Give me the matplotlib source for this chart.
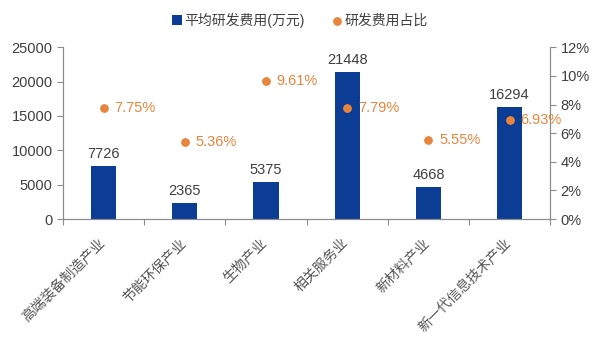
import matplotlib
matplotlib.use("Agg")
import matplotlib.pyplot as plt
import matplotlib.transforms as mtransforms
from matplotlib.ticker import FuncFormatter

plt.rcParams['font.family'] = ['Liberation Sans', 'Noto Sans CJK SC', 'DejaVu Sans']

industries = ["高端装备制造产业", "节能环保产业", "生物产业", "相关服务业", "新材料产业", "新一代信息技术产业"]
avg_rd_cost = [7726, 2365, 5375, 21448, 4668, 16294]
rd_ratio = [7.75, 5.36, 9.61, 7.79, 5.55, 6.93]

bar_color = "#0c3d94"
dot_color = "#e8853d"
text_color = "#404040"
axis_color = "#8c8c8c"

fig = plt.figure(figsize=(6, 3.45), dpi=100)
ax = fig.add_axes([0.105, 0.365, 0.812, 0.498])
ax2 = ax.twinx()

x = list(range(len(industries)))
ax.bar(x, avg_rd_cost, width=0.31, color=bar_color, label="平均研发费用(万元)", zorder=2)
for xi, v in zip(x, avg_rd_cost):
    ax.text(xi, v + 700, f"{v}", ha="center", va="bottom", fontsize=10.5, color=text_color)

ax2.scatter(x, rd_ratio, s=28, color=dot_color, label="研发费用占比", zorder=3)
for xi, r in zip(x, rd_ratio):
    ax2.text(xi + 0.13, r, f"{r:.2f}%", ha="left", va="center", fontsize=10.5, color=dot_color)

ax.set_xlim(-0.5, len(industries) - 0.5)
ax.set_ylim(0, 25000)
ax.set_yticks(range(0, 25001, 5000))
ax2.set_ylim(0, 12)
ax2.set_yticks(range(0, 13, 2))
ax2.yaxis.set_major_formatter(FuncFormatter(lambda v, p: f"{v:.0f}%"))

# boundary ticks between categories, names centred under each bar
ax.set_xticks([i - 0.5 for i in range(len(industries) + 1)])
ax.set_xticklabels([])
ax.set_xticks(x, minor=True)
ax.set_xticklabels(industries, minor=True, rotation=45, ha="right", rotation_mode="anchor",
                   fontsize=10, color="#555555")
ax.tick_params(axis="x", which="minor", length=0, pad=12)
ax.tick_params(axis="x", which="major", length=4, color=axis_color)
shift = mtransforms.ScaledTranslation(-6 / 100, 0, fig.dpi_scale_trans)
for lbl in ax.get_xticklabels(minor=True):
    lbl.set_transform(lbl.get_transform() + shift)

for a in (ax, ax2):
    a.spines["top"].set_visible(False)
    for s in ("left", "right", "bottom"):
        a.spines[s].set_color(axis_color)
    a.tick_params(axis="y", labelsize=10.5, labelcolor=text_color, color=axis_color, length=4)

h1, l1 = ax.get_legend_handles_labels()
h2, l2 = ax2.get_legend_handles_labels()
fig.legend(h1 + h2, l1 + l2, loc="upper center", bbox_to_anchor=(0.5, 1.0), ncol=2,
           frameon=False, fontsize=10, handlelength=0.7, handletextpad=0.2, columnspacing=2.0,
           labelcolor=text_color)

fig.savefig("out.png", dpi=100)
